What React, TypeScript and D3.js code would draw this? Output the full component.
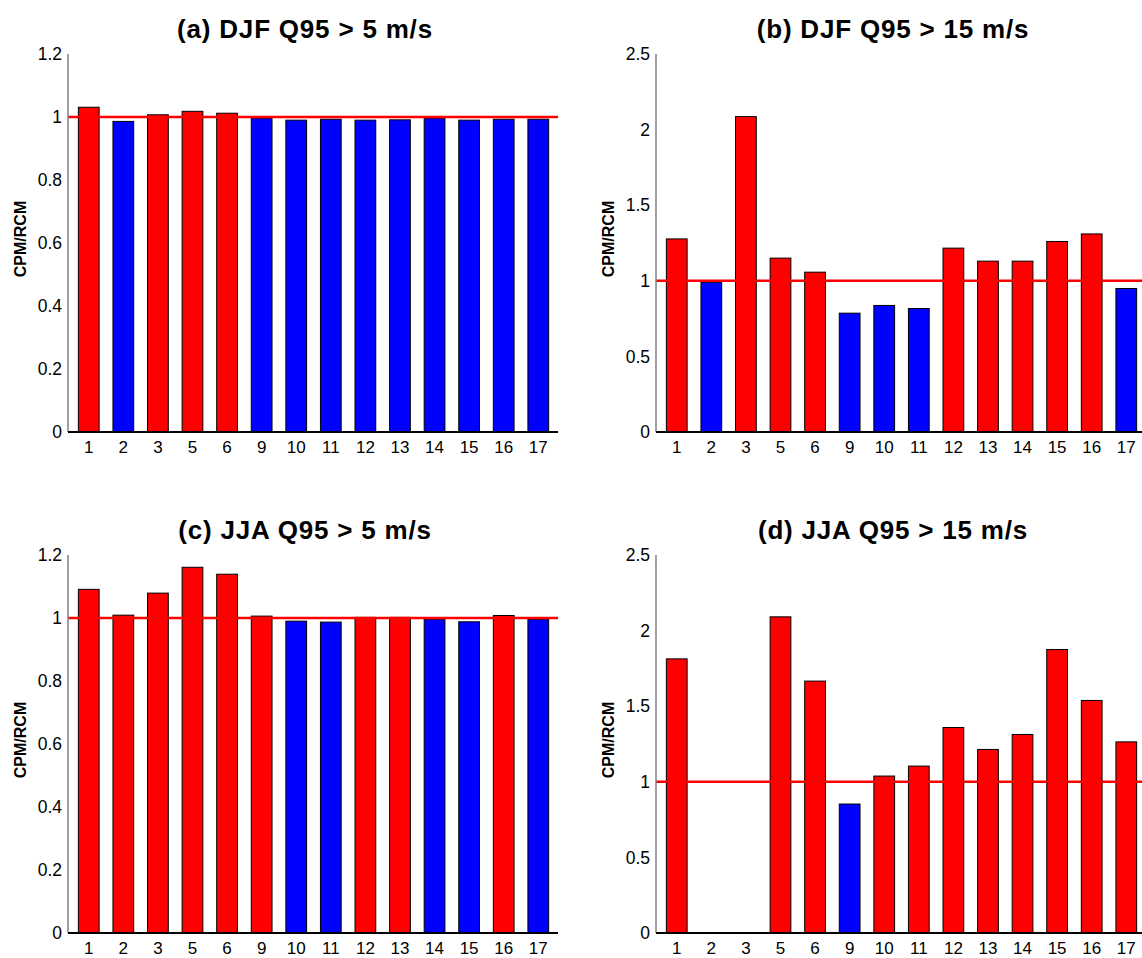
import React from "react";
import * as d3 from "d3";

const categories = ["1", "2", "3", "5", "6", "9", "10", "11", "12", "13", "14", "15", "16", "17"];

const djf5 = [1.031, 0.986, 1.007, 1.018, 1.012, 0.996, 0.99, 0.993, 0.99, 0.991, 0.996, 0.99, 0.993, 0.993];
const djf15 = [1.277, 0.99, 2.086, 1.15, 1.057, 0.786, 0.837, 0.817, 1.216, 1.13, 1.13, 1.26, 1.31, 0.949];
const jja5 = [1.091, 1.009, 1.079, 1.161, 1.139, 1.006, 0.99, 0.987, 1.002, 1.002, 0.996, 0.988, 1.008, 0.996];
const jja15 = [1.813, 0, 0, 2.091, 1.666, 0.853, 1.038, 1.104, 1.359, 1.214, 1.313, 1.875, 1.538, 1.264];

const ticksLow = [0, 0.2, 0.4, 0.6, 0.8, 1, 1.2];
const ticksHigh = [0, 0.5, 1, 1.5, 2, 2.5];

const titles = [
  "(a) DJF Q95 > 5 m/s",
  "(b) DJF Q95 > 15 m/s",
  "(c) JJA Q95 > 5 m/s",
  "(d) JJA Q95 > 15 m/s",
];

const yLabel = "CPM/RCM";
const reference = 1;

type PanelProps = {
  left: number;
  top: number;
  values: number[];
  ticks: number[];
  title: string;
};

const PW = 490;
const PH = 378;

function Panel({ left, top, values, ticks, title }: PanelProps) {
  const x = d3.scaleLinear().domain([0.4, 14.57]).range([left, left + PW]);
  const ymax = ticks[ticks.length - 1];
  const y = d3.scaleLinear().domain([0, ymax]).range([top + PH, top]);
  const step = x(2) - x(1);
  const bw = step * 0.6;
  const font = "'Liberation Sans', Arial, Helvetica, sans-serif";
  return (
    <g>
      <text
        x={left + 237}
        y={top - 16}
        textAnchor="middle"
        fontFamily={font}
        fontWeight="bold"
        fontSize={26}
        letterSpacing={0.8}
        fill="#000"
      >
        {title}
      </text>
      <text
        transform={`translate(${left - 48},${top + PH / 2 - 4}) rotate(-90)`}
        textAnchor="middle"
        dominantBaseline="central"
        fontFamily={font}
        fontWeight="bold"
        fontSize={16}
        fill="#000"
      >
        {yLabel}
      </text>
      {ticks.map((t) => (
        <text
          key={t}
          x={left - 6}
          y={y(t)}
          dy="0.35em"
          textAnchor="end"
          fontFamily={font}
          fontSize={17.5}
          fill="#000"
        >
          {String(+t.toFixed(1))}
        </text>
      ))}
      {values.map((v, i) => (
        <rect
          key={i}
          x={x(i + 1) - bw / 2}
          y={y(v)}
          width={bw}
          height={y(0) - y(v)}
          fill={v > reference ? "#ff0000" : "#0000ff"}
          stroke="#000"
          strokeWidth={1}
        />
      ))}
      {categories.map((c, i) => (
        <text
          key={c}
          x={x(i + 1)}
          y={top + PH + 21}
          textAnchor="middle"
          fontFamily={font}
          fontSize={17}
          fill="#000"
        >
          {c}
        </text>
      ))}
      <line x1={left} x2={left + PW} y1={y(reference)} y2={y(reference)} stroke="#ff0000" strokeWidth={2.5} />
      <line x1={left} x2={left} y1={top} y2={top + PH} stroke="#808080" strokeWidth={1.5} />
      <line x1={left} x2={left + PW} y1={top + PH} y2={top + PH} stroke="#000" strokeWidth={1.8} />
    </g>
  );
}

export default function App() {
  return (
    <svg
      width={1142}
      height={958}
      style={{ position: "absolute", left: 0, top: 0, background: "#fff" }}
    >
      <rect x={0} y={0} width={1142} height={958} fill="#fff" />
      <Panel left={68} top={54} values={djf5} ticks={ticksLow} title={titles[0]} />
      <Panel left={656} top={54} values={djf15} ticks={ticksHigh} title={titles[1]} />
      <Panel left={68} top={555} values={jja5} ticks={ticksLow} title={titles[2]} />
      <Panel left={656} top={555} values={jja15} ticks={ticksHigh} title={titles[3]} />
    </svg>
  );
}
